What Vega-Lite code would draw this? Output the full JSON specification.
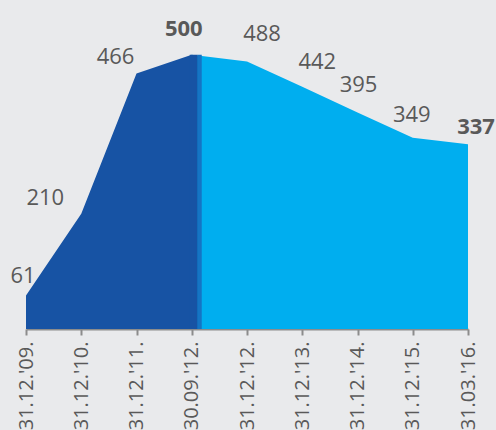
{
  "$schema": "https://vega.github.io/schema/vega-lite/v6.json",
  "width": 442,
  "height": 329,
  "autosize": {"type": "none"},
  "padding": {"left": 26, "top": 0, "right": 28, "bottom": 101},
  "background": "#e9eaec",
  "config": {"view": {"stroke": null}, "font": "Open Sans"},
  "data": {
    "values": [
      {"idx": 0, "date": "31.12.'09.", "value": 61},
      {"idx": 1, "date": "31.12.'10.", "value": 210},
      {"idx": 2, "date": "31.12.'11.", "value": 466},
      {"idx": 3, "date": "30.09.'12.", "value": 500},
      {"idx": 4, "date": "31.12.'12.", "value": 488},
      {"idx": 5, "date": "31.12.'13.", "value": 442},
      {"idx": 6, "date": "31.12.'14.", "value": 395},
      {"idx": 7, "date": "31.12.'15.", "value": 349},
      {"idx": 8, "date": "31.03.'16.", "value": 337}
    ]
  },
  "encoding": {
    "x": {
      "field": "date", "type": "ordinal",
      "scale": {"type": "point", "padding": 0, "domain": ["31.12.'09.", "31.12.'10.", "31.12.'11.", "30.09.'12.", "31.12.'12.", "31.12.'13.", "31.12.'14.", "31.12.'15.", "31.03.'16."]},
      "axis": {
        "title": null, "labelAngle": -90, "labelFontSize": 20, "labelColor": "#595959",
        "labelFont": "Open Sans", "labelPadding": 6, "domainColor": "#8c8c8c", "domainWidth": 2,
        "tickColor": "#8c8c8c", "tickWidth": 2, "tickSize": 6
      }
    },
    "y": {
      "field": "value", "type": "quantitative",
      "scale": {"domain": [0, 600], "nice": false},
      "axis": null
    }
  },
  "layer": [
    {"transform": [{"filter": "datum.idx >= 3"}], "mark": {"type": "area", "color": "#00aeef", "opacity": 1}},
    {"transform": [{"filter": "datum.idx <= 3"}], "mark": {"type": "area", "color": "#1753a4", "opacity": 1}},
    {"transform": [{"filter": "datum.idx == 3"}], "mark": {"type": "rule", "color": "#1753a4", "strokeWidth": 8, "xOffset": 2}, "encoding": {"y2": {"datum": 0}}},
    {"transform": [{"filter": "datum.idx == 3"}], "mark": {"type": "rule", "color": "#1574c4", "strokeWidth": 4, "xOffset": 8}, "encoding": {"y2": {"datum": 0}}},
    {"transform": [{"filter": "datum.idx == 0"}], "mark": {"type": "text", "fontSize": 22, "color": "#595959", "dx": -3, "dy": -20}, "encoding": {"text": {"field": "value"}}},
    {"transform": [{"filter": "datum.idx == 1"}], "mark": {"type": "text", "fontSize": 22, "color": "#595959", "dx": -36, "dy": -16}, "encoding": {"text": {"field": "value"}}},
    {"transform": [{"filter": "datum.idx == 2"}], "mark": {"type": "text", "fontSize": 22, "color": "#595959", "dx": -21, "dy": -16}, "encoding": {"text": {"field": "value"}}},
    {"transform": [{"filter": "datum.idx == 3"}], "mark": {"type": "text", "fontSize": 22, "fontWeight": "bold", "color": "#595959", "dx": -8, "dy": -26}, "encoding": {"text": {"field": "value"}}},
    {"transform": [{"filter": "datum.idx == 4"}], "mark": {"type": "text", "fontSize": 22, "color": "#595959", "dx": 15, "dy": -27}, "encoding": {"text": {"field": "value"}}},
    {"transform": [{"filter": "datum.idx == 5"}], "mark": {"type": "text", "fontSize": 22, "color": "#595959", "dx": 15, "dy": -25}, "encoding": {"text": {"field": "value"}}},
    {"transform": [{"filter": "datum.idx == 6"}], "mark": {"type": "text", "fontSize": 22, "color": "#595959", "dx": 1, "dy": -27}, "encoding": {"text": {"field": "value"}}},
    {"transform": [{"filter": "datum.idx == 7"}], "mark": {"type": "text", "fontSize": 22, "color": "#595959", "dx": -1, "dy": -23}, "encoding": {"text": {"field": "value"}}},
    {"transform": [{"filter": "datum.idx == 8"}], "mark": {"type": "text", "fontSize": 22, "fontWeight": "bold", "color": "#595959", "dx": 8, "dy": -17}, "encoding": {"text": {"field": "value"}}}
  ]
}
